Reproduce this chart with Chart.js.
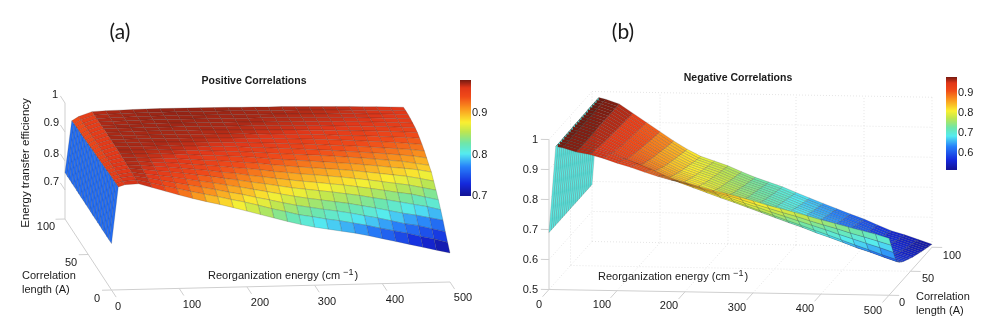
<!DOCTYPE html>
<html>
<head>
<meta charset="utf-8">
<title>Energy transfer efficiency</title>
<script src="https://cdn.jsdelivr.net/npm/chart.js@4/dist/chart.umd.min.js"></script>
<style>
  html, body { margin: 0; padding: 0; background: #fff; }
  #wrap { position: relative; width: 981px; height: 327px; overflow: hidden; }
  canvas { position: absolute; top: 0; }
  #chart-a { left: 0; }
  #chart-b { left: 490px; }
</style>
</head>
<body>
<div id="wrap">
  <canvas id="chart-a" width="490" height="327"></canvas>
  <canvas id="chart-b" width="491" height="327"></canvas>
</div>
<script>
// grid of both surfaces
const energyGrid = [0, 10, 20, 40, 60, 80, 100, 120, 140, 160, 180, 200, 220, 240, 260, 280, 300, 320, 340, 360, 380, 400, 420, 440, 460, 480, 500];
const corrGrid = [0, 5, 10, 15, 20, 25, 30, 35, 40, 45, 50, 55, 60, 65, 70, 75, 80, 85, 90, 95, 100];

// efficiency x 1000, one row per correlation length
const effPositive = [
  [760,955,962,964,950,936,922,909,897,886,874,861,848,835,822,810,800,792,784,776,766,755,744,733,722,711,700],
  [760,954,961,965,954,943,932,921,911,901,890,880,868,855,844,832,824,815,808,799,790,779,769,759,747,737,724],
  [760,953,961,966,958,949,940,931,922,913,903,894,883,873,862,852,844,836,829,821,811,802,791,780,772,760,749],
  [760,953,960,967,960,954,947,939,931,924,915,907,898,889,880,871,863,856,849,842,833,824,814,804,796,786,776],
  [760,952,960,968,963,958,953,947,940,934,926,919,911,904,896,888,882,876,870,863,856,847,839,830,821,812,800],
  [760,951,960,968,965,961,957,952,947,942,935,930,922,916,909,903,897,892,886,881,874,867,859,851,844,833,822],
  [760,950,959,969,966,963,960,957,952,948,943,938,933,928,921,916,910,906,901,896,890,884,877,870,863,853,843],
  [760,949,959,969,967,965,963,960,957,953,950,946,942,938,932,927,922,918,914,910,905,899,893,887,881,872,862],
  [760,948,958,970,968,967,966,964,961,958,956,953,949,946,940,936,933,929,925,921,917,912,907,901,896,890,881],
  [760,947,957,970,969,968,968,966,964,962,959,957,954,952,948,944,941,938,935,931,927,923,918,913,908,900,892],
  [760,946,957,970,970,969,969,968,966,965,962,961,959,956,954,951,948,945,942,939,935,931,927,923,918,913,905],
  [760,946,957,970,970,970,970,969,968,967,965,964,962,960,958,956,953,951,948,945,942,939,935,931,927,923,917],
  [760,945,956,970,970,970,970,970,969,968,967,966,965,963,961,960,958,956,954,952,949,946,943,940,936,932,927],
  [760,944,956,970,970,970,970,970,970,969,968,968,967,966,964,963,961,960,958,956,953,951,949,946,943,940,936],
  [760,943,955,970,970,971,971,971,970,970,970,969,968,967,966,965,964,963,961,960,958,956,954,952,950,947,944],
  [760,942,955,970,971,971,971,971,971,971,970,970,969,969,968,967,966,965,964,963,961,959,958,956,954,951,949],
  [760,941,954,969,970,971,971,972,972,971,971,971,970,970,969,968,968,967,966,965,964,962,961,959,957,955,952],
  [760,941,954,969,970,971,972,972,972,972,972,971,971,971,970,970,969,968,967,966,965,964,963,961,959,957,955],
  [760,940,953,968,970,971,972,972,973,973,972,972,972,971,971,970,970,969,968,967,966,965,964,962,961,959,957],
  [760,939,953,968,970,971,972,973,973,973,973,972,972,972,971,971,970,969,969,968,967,966,964,963,961,960,958],
  [760,938,952,968,970,971,972,973,973,973,973,973,972,972,971,971,970,970,969,968,967,966,965,963,962,960,958]
];
const effNegative = [
  [690,977,973,960,952,940,925,912,897,883,871,864,852,840,830,819,807,794,783,772,760,748,737,725,714,703,690],
  [690,977,973,960,950,937,922,908,892,876,862,852,839,826,815,802,788,775,762,750,736,723,711,697,685,672,659],
  [690,977,973,959,949,935,918,904,887,869,854,841,827,812,799,784,770,755,741,727,713,699,684,670,656,642,627],
  [690,977,973,959,947,932,915,900,882,862,845,829,814,798,783,767,751,736,720,705,689,674,658,642,627,611,596],
  [690,978,973,959,944,926,906,888,868,848,831,815,799,783,768,752,736,720,704,689,672,657,641,624,610,594,579],
  [690,978,974,959,942,922,901,882,861,840,824,808,792,776,761,745,728,712,696,680,664,649,632,615,601,585,570],
  [690,978,974,959,941,920,898,877,856,835,818,803,786,770,755,739,722,706,690,674,657,642,625,608,594,578,563],
  [690,978,974,960,939,918,895,873,851,830,814,798,781,764,749,734,717,700,684,668,652,636,619,602,588,572,557],
  [690,979,974,960,939,916,893,870,848,826,810,795,778,761,746,730,713,696,680,664,647,632,614,598,584,568,553],
  [690,979,974,960,937,914,890,866,843,822,806,790,773,756,741,726,708,692,675,659,643,627,609,592,578,563,548],
  [690,979,974,960,937,912,888,863,840,818,802,787,769,752,737,722,705,688,671,655,638,623,605,588,574,559,544],
  [690,979,974,960,936,911,885,860,836,814,799,783,766,749,733,718,701,684,667,651,634,619,601,583,570,554,539],
  [690,979,974,960,935,910,884,858,834,812,796,781,763,746,731,715,698,681,664,648,631,615,597,580,566,551,536],
  [690,979,974,960,934,908,882,856,831,809,793,778,760,743,728,712,695,678,661,644,628,612,594,576,563,547,532],
  [690,979,974,960,934,907,880,853,828,806,790,775,757,740,725,709,692,674,658,641,624,608,590,573,559,544,529],
  [690,980,975,960,933,906,878,851,825,803,788,772,754,736,722,706,689,671,654,638,621,605,587,569,556,540,525],
  [690,980,975,960,932,904,876,848,823,800,785,770,751,734,719,703,686,668,651,634,618,602,583,565,552,537,522],
  [690,980,975,960,932,903,875,846,820,797,782,767,748,731,716,700,683,665,648,631,614,598,580,562,549,534,519],
  [690,980,975,960,931,902,873,844,818,795,780,765,746,728,713,698,680,663,646,629,612,596,577,559,546,531,516],
  [690,980,975,960,930,901,871,842,815,792,777,762,743,725,710,695,677,659,642,625,608,592,574,556,543,528,513],
  [690,980,975,960,930,900,870,840,813,790,775,760,741,723,708,693,675,657,640,623,606,590,571,553,540,525,510]
];

// axis ticks
const energyTicks = [0, 100, 200, 300, 400, 500];
const energyTickLabels = ['0', '100', '200', '300', '400', '500'];
const corrTicks = [0, 50, 100];
const corrTickLabels = ['0', '50', '100'];
const effTicksA = [0.7, 0.8, 0.9, 1];
const effTickLabelsA = ['0.7', '0.8', '0.9', '1'];
const effTicksB = [0.5, 0.6, 0.7, 0.8, 0.9, 1];
const effTickLabelsB = ['0.5', '0.6', '0.7', '0.8', '0.9', '1'];
const barTicksA = [0.7, 0.8, 0.9];
const barTicksB = [0.6, 0.7, 0.8, 0.9];

const FONT = '11px "Liberation Sans"';
const INK = '#1a1a1a';
const AXIS = '#cfcfcf';
const GRID = '#e4e4e4';

const jetStops = [
  [0, 20, 20, 150], [0.1, 20, 40, 220], [0.25, 40, 130, 250], [0.36, 85, 235, 240],
  [0.45, 110, 230, 170], [0.55, 190, 230, 80], [0.63, 250, 240, 50], [0.75, 250, 150, 30],
  [0.85, 240, 75, 25], [0.93, 225, 55, 25], [0.975, 150, 35, 20], [1, 110, 25, 15]
];

function jet(t) {
  t = Math.min(1, Math.max(0, t));
  let i = 0;
  while (i < jetStops.length - 2 && t > jetStops[i + 1][0]) i++;
  const a = jetStops[i], b = jetStops[i + 1];
  const k = (t - a[0]) / (b[0] - a[0]);
  const c = [1, 2, 3].map(n => Math.round(a[n] + (b[n] - a[n]) * k));
  return `rgb(${c.join(',')})`;
}

const panels = {
  a: {
    canvas: 'chart-a', left: 0, width: 490,
    table: effPositive,
    // view: floor corner, then screen change per unit of energy, corr, efficiency
    view: { x0: 111.5, y0: 290, ex: 0.677, ey: -0.016, cx: -0.465, cy: -0.71, zy: -290, zFloor: 0.6 },
    range: [0.7, 0.98],
    bar: { x0: 460, x1: 471, y0: 196, y1: 80 },
    barTicks: barTicksA,
    effTicks: effTicksA, effLabels: effTickLabelsA,
    axes: [[[0, 0, 0.6], [500, 0, 0.6]], [[0, 0, 0.6], [0, 100, 0.6]], [[0, 100, 0.6], [0, 100, 1]]],
    walls: [],
    energyTick: [0, -10], corrTick: [-14, 0], effTick: [0, 110, 100],
    text: [
      { s: '(a)', x: 120, y: 32, font: '21px Lato', align: 'center' },
      { s: 'Positive Correlations', x: 254, y: 81, font: 'bold 10.5px "Liberation Sans"', align: 'center' },
      { s: 'Correlation', x: 22, y: 276 },
      { s: 'length (A)', x: 22, y: 290 },
      { s: 'Energy transfer efficiency', x: 26, y: 163, rotate: true, align: 'center', font: '11.5px "Liberation Sans"' }
    ],
    reorg: { x: 208, y: 276 },
    energyPos: [[118, 307], [192, 305], [260, 303], [327, 302], [395, 300], [463, 298]],
    corrPos: [[97, 299], [71, 263], [46, 227]],
    effPos: [[59, 182], [59, 154], [59, 123], [58, 95]],
    barLabelX: 472
  },
  b: {
    canvas: 'chart-b', left: 490, width: 491,
    table: effNegative,
    view: { x0: 549, y0: 289.5, ex: 0.68, ey: 0.0115, cx: 0.43, cy: -0.48, zy: -300, zFloor: 0.5 },
    range: [0.515, 0.98],
    bar: { x0: 946, x1: 957, y0: 170, y1: 77 },
    barTicks: barTicksB,
    effTicks: effTicksB, effLabels: effTickLabelsB,
    axes: [[[0, 0, 0.5], [500, 0, 0.5]], [[500, 0, 0.5], [500, 100, 0.5]], [[0, 0, 0.5], [0, 0, 1]]],
    walls: [
      [[0, 0, 1], [0, 100, 1]], [[0, 100, 1], [500, 100, 1]], [[500, 100, 1], [500, 100, 0.5]],
      [[0, 100, 0.5], [0, 100, 1]], [[0, 100, 0.5], [500, 100, 0.5]], [[0, 100, 0.5], [0, 0, 0.5]],
      [[0, 50, 0.5], [0, 50, 1]], [[0, 50, 0.5], [500, 50, 0.5]]
    ],
    energyTick: [0, -15], corrTick: [15, 0], effTick: [-12, 0, 0],
    text: [
      { s: '(b)', x: 623, y: 32, font: '21px Lato', align: 'center' },
      { s: 'Negative Correlations', x: 738, y: 78, font: 'bold 10.5px "Liberation Sans"', align: 'center' },
      { s: 'Correlation', x: 916, y: 297 },
      { s: 'length (A)', x: 916, y: 311 }
    ],
    reorg: { x: 598, y: 277 },
    energyPos: [[539, 305], [602, 305], [669, 306], [737, 308], [805, 309], [873, 311]],
    corrPos: [[902, 303], [928, 279], [952, 256]],
    effPos: [[538, 290], [538, 260], [538, 230], [538, 200], [538, 170], [538, 140]],
    barLabelX: 958
  }
};

function project(view, e, c, z) {
  return {
    x: view.x0 + view.ex * e + view.cx * c,
    y: view.y0 + view.ey * e + view.cy * c + view.zy * (z - view.zFloor)
  };
}

function lineSet(points, color, dash) {
  return {
    data: points, borderColor: color, borderWidth: 1, borderDash: dash || [],
    pointRadius: 0, tension: 0, fill: false
  };
}

function buildDatasets(panel) {
  const { view, table, range } = panel;
  const sets = [];
  const at = (i, j) => table[i][j] / 1000;

  // first dataset is painted last, so the front row goes first
  for (let i = 0; i < corrGrid.length - 1; i++) {
    for (let j = 0; j < energyGrid.length - 1; j++) {
      const corners = [
        project(view, energyGrid[j], corrGrid[i], at(i, j)),
        project(view, energyGrid[j + 1], corrGrid[i], at(i, j + 1)),
        project(view, energyGrid[j + 1], corrGrid[i + 1], at(i + 1, j + 1)),
        project(view, energyGrid[j], corrGrid[i + 1], at(i + 1, j))
      ];
      corners.push(corners[0]);
      sets.push({
        data: corners,
        // flat shading from the cell's first corner
        backgroundColor: jet((at(i, j) - range[0]) / (range[1] - range[0])),
        borderColor: 'rgba(50,50,50,0.4)',
        borderWidth: 0.5, pointRadius: 0, tension: 0, fill: 'shape'
      });
    }
  }

  // colour bar
  const { x0, x1, y0, y1 } = panel.bar;
  const steps = Math.round(y0 - y1);
  for (let k = 0; k < steps; k++) {
    const ya = y0 + (y1 - y0) * k / steps;
    const yb = y0 + (y1 - y0) * (k + 1) / steps + (k < steps - 1 ? -0.5 : 0);
    const color = jet((k + 0.5) / steps);
    sets.push({
      data: [{ x: x0, y: ya }, { x: x1, y: ya }, { x: x1, y: yb }, { x: x0, y: yb }, { x: x0, y: ya }],
      backgroundColor: color, borderColor: color, borderWidth: 0, pointRadius: 0, tension: 0, fill: 'shape'
    });
  }

  // axes, ticks and dotted walls sit behind the surface
  const toPts = seg => seg.map(p => project(view, p[0], p[1], p[2]));
  const floorZ = view.zFloor;
  panel.axes.forEach(seg => sets.push(lineSet(toPts(seg), AXIS)));
  panel.walls.forEach(seg => sets.push(lineSet(toPts(seg), GRID, [1, 2])));
  if (panel.walls.length) {
    energyTicks.slice(1, -1).forEach(e => {
      sets.push(lineSet(toPts([[e, 100, floorZ], [e, 100, 1]]), GRID, [1, 2]));
      sets.push(lineSet(toPts([[e, 0, floorZ], [e, 100, floorZ]]), GRID, [1, 2]));
    });
    panel.effTicks.slice(1, -1).forEach(z => {
      sets.push(lineSet(toPts([[0, 0, z], [0, 100, z], [500, 100, z]]), GRID, [1, 2]));
    });
  }
  energyTicks.forEach(e => sets.push(lineSet(toPts([[e, 0, floorZ], [e, panel.energyTick[1], floorZ]]), AXIS)));
  const cornerE = panel.corrTick[0] < 0 ? 0 : 500;
  corrTicks.forEach(c => sets.push(lineSet(toPts([[cornerE, c, floorZ], [cornerE + panel.corrTick[0], c, floorZ]]), AXIS)));
  const zc = panel.effTick[2];
  panel.effTicks.forEach(z => sets.push(lineSet(toPts([[0, zc, z], [panel.effTick[0], panel.effTick[1], z]]), AXIS)));
  return sets;
}

const labelsPlugin = {
  id: 'panelLabels',
  afterDraw(chart, args, opts) {
    const panel = opts.panel;
    const { ctx, scales } = chart;
    const put = (s, x, y, font, align, rotate) => {
      ctx.save();
      ctx.translate(scales.x.getPixelForValue(x), scales.y.getPixelForValue(y));
      if (rotate) ctx.rotate(-Math.PI / 2);
      ctx.font = font || FONT;
      ctx.fillStyle = INK;
      ctx.textAlign = align || 'left';
      ctx.textBaseline = 'middle';
      ctx.fillText(s, 0, 0);
      ctx.restore();
    };
    panel.text.forEach(t => put(t.s, t.x, t.y, t.font, t.align, t.rotate));
    energyTickLabels.forEach((s, i) => put(s, panel.energyPos[i][0], panel.energyPos[i][1], FONT, 'center'));
    corrTickLabels.forEach((s, i) => put(s, panel.corrPos[i][0], panel.corrPos[i][1], FONT, 'center'));
    panel.effLabels.forEach((s, i) => put(s, panel.effPos[i][0], panel.effPos[i][1], FONT, 'right'));

    const { x0, y0, y1 } = panel.bar;
    panel.barTicks.forEach(v => {
      const y = y0 + (y1 - y0) * (v - panel.range[0]) / (panel.range[1] - panel.range[0]);
      put(v.toFixed(1), panel.barLabelX, y, FONT, 'left');
    });

    // axis title with the raised exponent
    const first = 'Reorganization energy (cm ';
    ctx.font = FONT;
    const w1 = ctx.measureText(first).width;
    put(first, panel.reorg.x, panel.reorg.y);
    put('\u22121', panel.reorg.x + w1, panel.reorg.y - 3, '9px "Liberation Sans"');
    ctx.font = '9px "Liberation Sans"';
    const w2 = ctx.measureText('\u22121').width;
    put(')', panel.reorg.x + w1 + w2 + 1, panel.reorg.y);
  }
};

function buildChart(panel) {
  return new Chart(document.getElementById(panel.canvas).getContext('2d'), {
    type: 'line',
    data: { datasets: buildDatasets(panel) },
    plugins: [labelsPlugin],
    options: {
      responsive: false,
      animation: false,
      events: [],
      layout: { padding: 0 },
      scales: {
        x: { type: 'linear', display: false, min: panel.left, max: panel.left + panel.width },
        y: { type: 'linear', display: false, min: 0, max: 327, reverse: true }
      },
      plugins: {
        legend: { display: false },
        tooltip: { enabled: false },
        panelLabels: { panel }
      }
    }
  });
}

buildChart(panels.a);
buildChart(panels.b);
</script>
</body>
</html>
